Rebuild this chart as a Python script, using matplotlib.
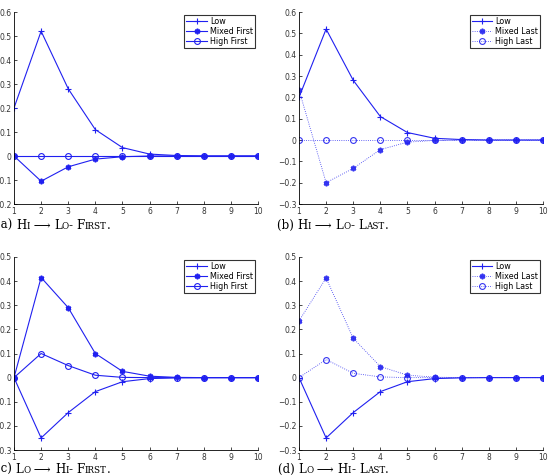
import matplotlib
matplotlib.use("Agg")
import matplotlib.pyplot as plt

# periods
t = list(range(1, 11))

# (a) Hi -> Lo, First
a_low = [0.2, 0.52, 0.28, 0.11, 0.035, 0.008, 0.002, 0.0, 0.0, 0.0]
a_mixed = [0.0, -0.105, -0.045, -0.013, -0.003, 0.0, 0.0, 0.0, 0.0, 0.0]
a_high = [0.0, 0.0, 0.0, 0.0, 0.0, 0.0, 0.0, 0.0, 0.0, 0.0]

# (b) Hi -> Lo, Last
b_low = [0.2, 0.52, 0.28, 0.11, 0.035, 0.008, 0.002, 0.0, 0.0, 0.0]
b_mixed = [0.235, -0.2, -0.133, -0.045, -0.01, -0.002, 0.0, 0.0, 0.0, 0.0]
b_high = [0.0, 0.0, 0.0, 0.0, 0.0, 0.0, 0.0, 0.0, 0.0, 0.0]

# (c) Lo -> Hi, First
c_low = [0.0, -0.25, -0.145, -0.058, -0.017, -0.004, -0.001, 0.0, 0.0, 0.0]
c_mixed = [0.0, 0.415, 0.29, 0.1, 0.026, 0.006, 0.001, 0.0, 0.0, 0.0]
c_high = [0.0, 0.1, 0.05, 0.01, 0.001, 0.0, 0.0, 0.0, 0.0, 0.0]

# (d) Lo -> Hi, Last
d_low = [0.0, -0.25, -0.145, -0.058, -0.017, -0.004, -0.001, 0.0, 0.0, 0.0]
d_mixed = [0.235, 0.413, 0.163, 0.046, 0.01, 0.002, 0.0, 0.0, 0.0, 0.0]
d_high = [0.0, 0.075, 0.018, 0.003, 0.0, 0.0, 0.0, 0.0, 0.0, 0.0]

# captions, as (text, small) pieces to fake small caps
cap_a = [("(a) ", 0), ("H", 0), ("I", 1), (" \u27f6 ", 0), ("L", 0), ("O", 1), ("- ", 0), ("F", 0), ("IRST", 1), (".", 0)]
cap_b = [("(b) ", 0), ("H", 0), ("I", 1), (" \u27f6 ", 0), ("L", 0), ("O", 1), ("- ", 0), ("L", 0), ("AST", 1), (".", 0)]
cap_c = [("(c) ", 0), ("L", 0), ("O", 1), (" \u27f6 ", 0), ("H", 0), ("I", 1), ("- ", 0), ("F", 0), ("IRST", 1), (".", 0)]
cap_d = [("(d) ", 0), ("L", 0), ("O", 1), (" \u27f6 ", 0), ("H", 0), ("I", 1), ("- ", 0), ("L", 0), ("AST", 1), (".", 0)]

W, H = 552, 475
fig = plt.figure(figsize=(W / 100, H / 100), dpi=100)

BLUE = "#2020f0"
AST = (6, 2, 0)


def box(l, t_, r, b):
    return [l / W, 1 - b / H, (r - l) / W, (b - t_) / H]


def setup(ax, ylim, yticks):
    ax.set_xlim(1, 10)
    ax.set_ylim(*ylim)
    ax.set_xticks(t)
    ax.set_yticks(yticks)
    ax.set_yticklabels(["0" if abs(v) < 1e-9 else ("%.1f" % v).replace("-", "\u2212") for v in yticks])
    for s in ["top", "right"]:
        ax.spines[s].set_visible(False)
    for s in ["left", "bottom"]:
        ax.spines[s].set_linewidth(0.6)
    ax.tick_params(direction="in", length=2.5, width=0.5, labelsize=5.5, pad=2, labelcolor="#333333")


def add_legend(ax):
    leg = ax.legend(loc="upper right", fontsize=5.8, frameon=True, fancybox=False,
                    handlelength=2.6, handletextpad=0.3, borderpad=0.25, labelspacing=0.1,
                    borderaxespad=0.4)
    leg.get_frame().set_edgecolor("black")
    leg.get_frame().set_linewidth(0.8)


def first_panel(ax, low, mixed, high, ylim, yticks):
    ax.plot(t, low, color=BLUE, lw=0.8, marker="+", ms=4.5, mew=0.8, label="Low")
    ax.plot(t, mixed, color=BLUE, lw=0.8, marker=AST, ms=4, mew=1.2, label="Mixed First")
    ax.plot(t, high, color=BLUE, lw=0.8, marker="o", ms=4.2, mfc="none", mew=0.8, label="High First")
    setup(ax, ylim, yticks)
    add_legend(ax)


def last_panel(ax, low, mixed, high, ylim, yticks):
    ax.plot(t, low, color=BLUE, lw=0.8, marker="+", ms=4.5, mew=0.8, label="Low")
    ax.plot(t, mixed, color=BLUE, lw=0.6, ls=":", marker=AST, ms=4, mew=1.2, alpha=0.9, label="Mixed Last")
    ax.plot(t, high, color=BLUE, lw=0.6, ls=":", marker="o", ms=4.2, mfc="none", mew=0.8, alpha=0.9, label="High Last")
    setup(ax, ylim, yticks)
    add_legend(ax)


ax_a = fig.add_axes(box(14, 12, 258, 204))
first_panel(ax_a, a_low, a_mixed, a_high, (-0.2, 0.6), [-0.2, -0.1, 0, 0.1, 0.2, 0.3, 0.4, 0.5, 0.6])

ax_b = fig.add_axes(box(299, 12, 543, 204))
last_panel(ax_b, b_low, b_mixed, b_high, (-0.3, 0.6), [-0.3, -0.2, -0.1, 0, 0.1, 0.2, 0.3, 0.4, 0.5, 0.6])

ax_c = fig.add_axes(box(14, 257, 258, 450))
first_panel(ax_c, c_low, c_mixed, c_high, (-0.3, 0.5), [-0.3, -0.2, -0.1, 0, 0.1, 0.2, 0.3, 0.4, 0.5])

ax_d = fig.add_axes(box(299, 257, 543, 450))
last_panel(ax_d, d_low, d_mixed, d_high, (-0.3, 0.5), [-0.3, -0.2, -0.1, 0, 0.1, 0.2, 0.3, 0.4, 0.5])

# small caps captions built from pieces
renderer = fig.canvas.get_renderer()


def caption(pieces, x_px, y_px):
    x = x_px
    for txt, small in pieces:
        size = 6.3 if small else 8.5
        tx = fig.text(x / W, 1 - y_px / H, txt, fontsize=size, family=["DejaVu Serif", "DejaVu Sans"],
                      va="baseline", ha="left")
        bb = tx.get_window_extent(renderer=renderer)
        x += bb.width


caption(cap_a, -4, 229)
caption(cap_b, 277, 229)
caption(cap_c, -4, 473)
caption(cap_d, 278, 473)

fig.savefig("out.png", dpi=100)
